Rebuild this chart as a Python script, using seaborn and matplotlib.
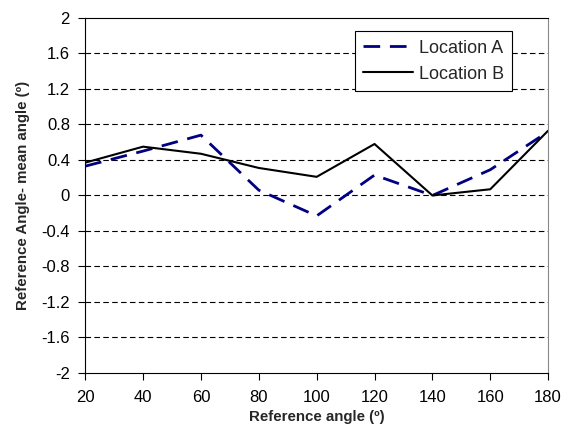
import numpy as np
import pandas as pd
import matplotlib
matplotlib.use("Agg")
import matplotlib.pyplot as plt
import seaborn as sns

# reference angles and deviations
angles = [20, 40, 60, 80, 100, 120, 140, 160, 180]
loc_a = [0.33, 0.50, 0.68, 0.06, -0.23, 0.23, 0.00, 0.29, 0.72]
loc_b = [0.37, 0.55, 0.47, 0.31, 0.21, 0.58, 0.00, 0.07, 0.73]
y_ticks = [-2, -1.6, -1.2, -0.8, -0.4, 0, 0.4, 0.8, 1.2, 1.6, 2]

df = pd.DataFrame({"angle": angles, "Location A": loc_a, "Location B": loc_b})

sns.set_theme(style="white")
plt.rcParams['font.family'] = ['Liberation Sans', 'DejaVu Sans']

fig = plt.figure(figsize=(5.68, 4.34), dpi=100)
ax = fig.add_axes([0.15, 0.1406, 0.815, 0.818])

sns.lineplot(data=df, x="angle", y="Location A", ax=ax, color="#000080",
             linewidth=2, label="Location A")
sns.lineplot(data=df, x="angle", y="Location B", ax=ax, color="black",
             linewidth=1.5, label="Location B")
ax.lines[0].set_dashes([6, 3.5])

ax.set_xlim(20, 180)
ax.set_ylim(-2, 2)
ax.set_xticks(angles)
ax.set_yticks(y_ticks)
ax.set_yticklabels([f"{t:g}" for t in y_ticks])

for t in y_ticks[1:-1]:
    ax.axhline(t, color="black", linestyle=(0, (5, 3)), linewidth=0.8, zorder=0)

ax.tick_params(axis="both", labelsize=12, length=5, width=0.8, direction="out",
               bottom=True, left=True, colors="black")
ax.tick_params(axis="y", pad=6)
ax.tick_params(axis="x", pad=7)
for s in ax.spines.values():
    s.set_color("black")
    s.set_linewidth(0.8)
ax.spines["right"].set_color("#888888")

ax.set_xlabel("Reference angle (º)", fontsize=10.8, fontweight="bold", labelpad=4)
ax.set_ylabel("Reference Angle- mean angle (º)", fontsize=10.8, fontweight="bold", labelpad=8)

leg = ax.legend(loc="upper right", bbox_to_anchor=(0.922, 0.962), fontsize=13,
                frameon=True, fancybox=False, edgecolor="black", framealpha=1,
                borderpad=0.45, handlelength=2.8, labelspacing=0.5, handletextpad=0.3,
                borderaxespad=0)
leg.get_frame().set_linewidth(0.8)

fig.savefig("out.png", dpi=100)
